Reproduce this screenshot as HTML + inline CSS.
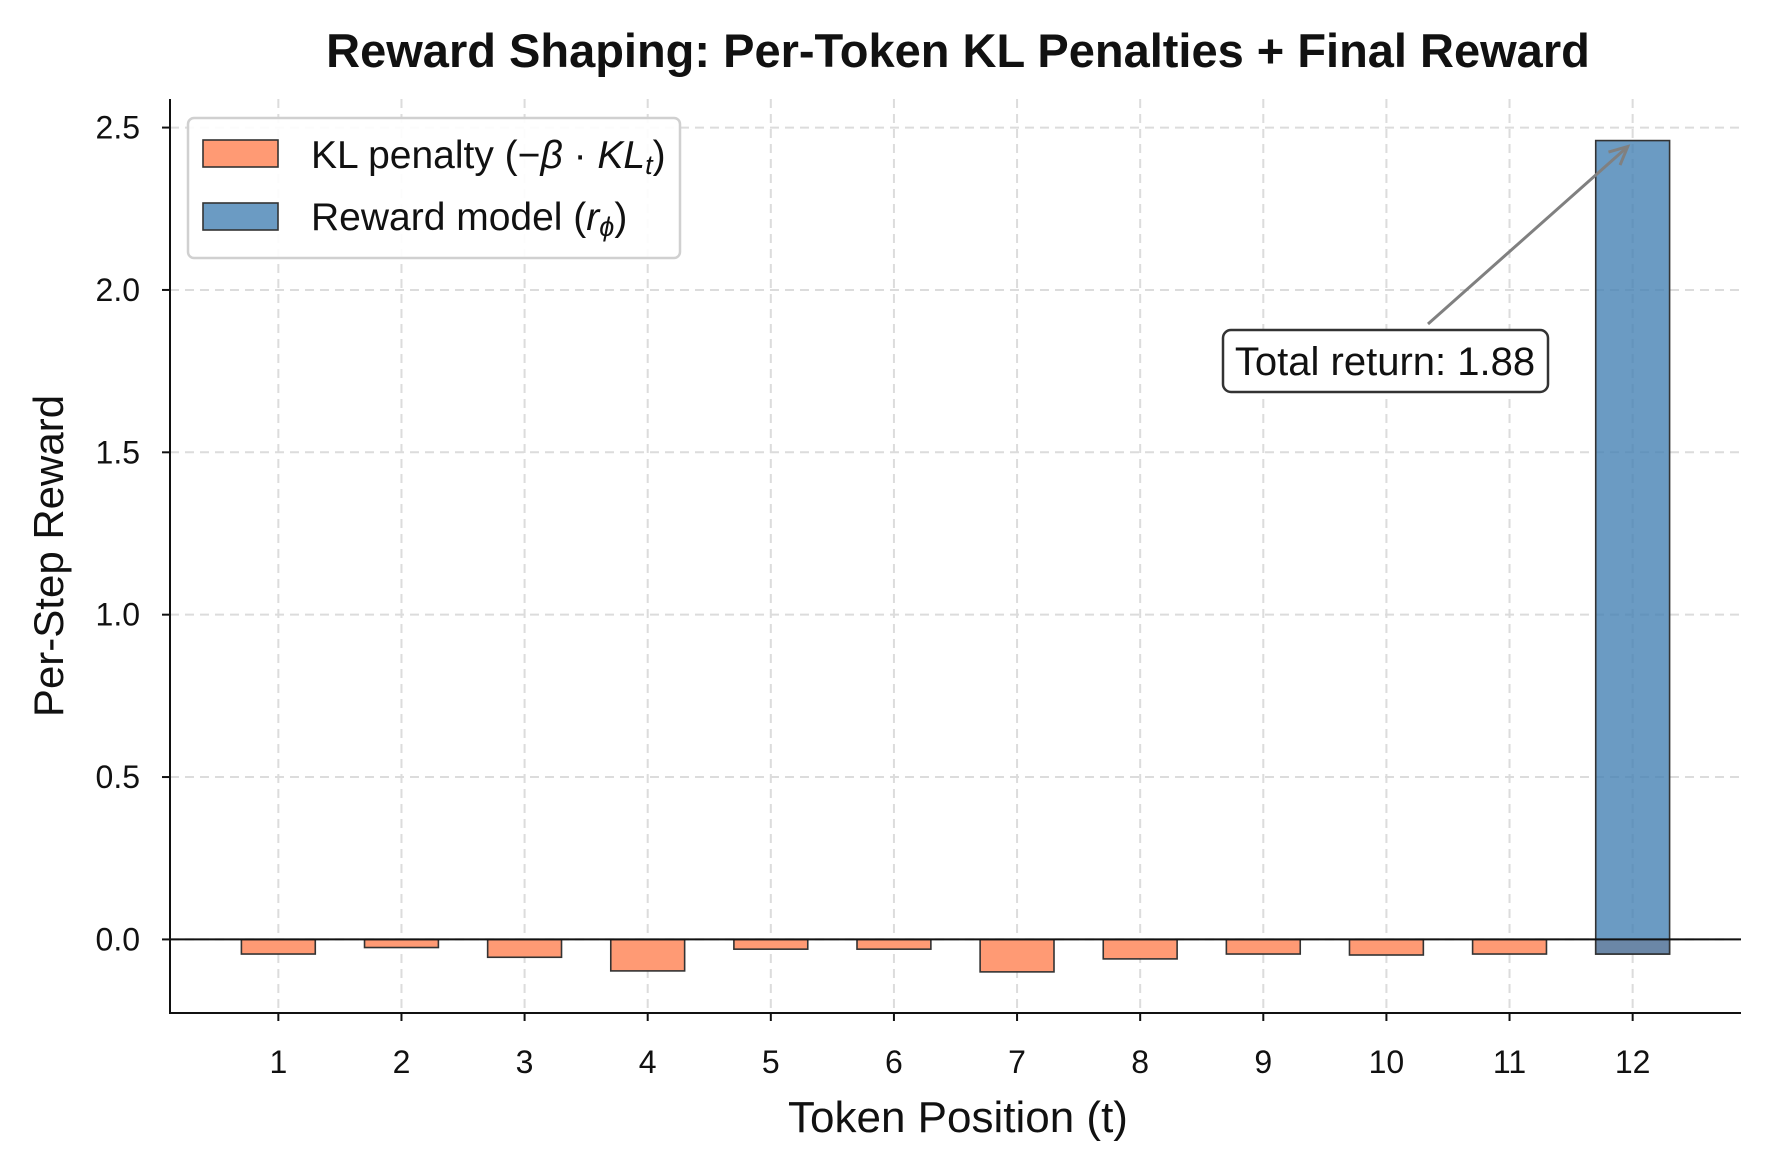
<!DOCTYPE html>
<html><head><meta charset="utf-8"><style>
body{margin:0;background:#fff}
svg text{font-family:"Liberation Sans",sans-serif;fill:#111}
</style></head><body>
<svg id="chart" width="1770" height="1170" xmlns="http://www.w3.org/2000/svg">
<rect width="1770" height="1170" fill="#fff"/>
<g id="grid"></g><g id="bars"></g><g id="axes"></g>
</svg>
<script>
const tokens=[1,2,3,4,5,6,7,8,9,10,11,12];
const klValues=[-0.045,-0.025,-0.055,-0.097,-0.03,-0.03,-0.1,-0.06,-0.045,-0.048,-0.045,-0.045];
const rewardValue=2.46;
const rewardToken=12;
const yTicks=[0.0,0.5,1.0,1.5,2.0,2.5];
const yTickLabels=["0.0","0.5","1.0","1.5","2.0","2.5"];
const totalReturnLabel="Total return: 1.88";

const NS="http://www.w3.org/2000/svg";
const L=170,R=1741,T=99,B=1013;
const xMin=0.12,xMax=12.88,yMin=-0.2266,yMax=2.588;
const xs=v=>L+(v-xMin)/(xMax-xMin)*(R-L);
const ys=v=>B-(v-yMin)/(yMax-yMin)*(B-T);
function mk(tag,attrs,parent){const e=document.createElementNS(NS,tag);for(const k in attrs)e.setAttribute(k,attrs[k]);parent.appendChild(e);return e;}
const svg=document.getElementById('chart'),grid=document.getElementById('grid'),bars=document.getElementById('bars'),axes=document.getElementById('axes');

yTicks.forEach((t,i)=>{
  const g=mk('line',{x1:L,x2:R,y1:ys(t),y2:ys(t),stroke:'#dcdcdc','stroke-width':2,'stroke-dasharray':'9,6'},grid);
  
  
  const tk=mk('line',{x1:L-8,x2:L,y1:ys(t),y2:ys(t),stroke:'#111','stroke-width':2},axes);
  
  
  const tx=mk('text',{x:L-30,y:ys(t)+11,'text-anchor':'end','font-size':32},axes);
  tx.textContent=yTickLabels[i];
  
  
});
tokens.forEach(t=>{
  const g=mk('line',{x1:xs(t),x2:xs(t),y1:T,y2:B,stroke:'#dcdcdc','stroke-width':2,'stroke-dasharray':'9,6'},grid);
  
  
  const tk=mk('line',{x1:xs(t),x2:xs(t),y1:B,y2:B+8,stroke:'#111','stroke-width':2},axes);
  
  
  const tx=mk('text',{x:xs(t),y:B+60,'text-anchor':'middle','font-size':32},axes);
  tx.textContent=t;
  
  
});
const bw=0.6;
tokens.forEach((t,i)=>{
  const v=klValues[i];
  const r=mk('rect',{x:xs(t-bw/2),width:xs(t+bw/2)-xs(t-bw/2),y:ys(0),height:ys(v)-ys(0),fill:'#ff9a74',stroke:'#333','stroke-width':1.6},bars);
  
  
});
const ri=tokens.indexOf(rewardToken);
const base=klValues[ri];
const rb=mk('rect',{x:xs(rewardToken-bw/2),width:xs(rewardToken+bw/2)-xs(rewardToken-bw/2),y:ys(rewardValue),height:ys(base)-ys(rewardValue),fill:'rgb(70,130,180)','fill-opacity':0.8,stroke:'#333','stroke-width':1.6},bars);


const zl=mk('line',{x1:L,x2:R,y1:ys(0),y2:ys(0),stroke:'#111','stroke-width':2},axes);


const sp1=mk('line',{x1:L,x2:L,y1:T,y2:B+1,stroke:'#111','stroke-width':2},axes);


const sp2=mk('line',{x1:L-1,x2:R,y1:B,y2:B,stroke:'#111','stroke-width':2},axes);



const ax=xs(rewardToken-0.04),ay=ys(rewardValue)+6;
const sx=1428,sy=324;
const ar=mk('line',{x1:sx,y1:sy,x2:ax,y2:ay,stroke:'#808080','stroke-width':3},axes);


const ang=Math.atan2(ay-sy,ax-sx),hl=20;
const ah=mk('polyline',{points:`${ax-hl*Math.cos(ang-0.45)},${ay-hl*Math.sin(ang-0.45)} ${ax},${ay} ${ax-hl*Math.cos(ang+0.45)},${ay-hl*Math.sin(ang+0.45)}`,fill:'none',stroke:'#808080','stroke-width':3},axes);


const ab=mk('rect',{x:1223,y:330,width:325,height:62,rx:8,fill:'#fff',stroke:'#333','stroke-width':2.5},axes);


const at=mk('text',{x:1385,y:375,'text-anchor':'middle','font-size':40},axes);
at.textContent=totalReturnLabel;


</script>
<svg style="position:absolute;left:0;top:0" width="1770" height="1170" xmlns="http://www.w3.org/2000/svg">
<g>
<rect x="188" y="118" width="492" height="140" rx="6" fill="#fff" fill-opacity="0.9" stroke="#d0d0d0" stroke-width="2.5"/>
<rect x="203" y="140" width="75" height="27" fill="#ff9a74" stroke="#333" stroke-width="1.6"/>
<text x="311" y="168" font-size="39" style="font-family:'Liberation Sans',sans-serif">KL penalty (−<tspan font-style="italic">β</tspan> · <tspan font-style="italic">KL</tspan><tspan font-style="italic" font-size="27" dy="6">t</tspan><tspan dy="-6">)</tspan></text>
<rect x="203" y="203" width="75" height="27" fill="#6b9bc3" stroke="#333" stroke-width="1.6"/>
<text x="311" y="230" font-size="39" style="font-family:'Liberation Sans',sans-serif">Reward model (<tspan font-style="italic">r</tspan><tspan font-style="italic" font-size="27" dy="6">ϕ</tspan><tspan dy="-6">)</tspan></text>
</g>
<text x="958" y="67" text-anchor="middle" font-size="47" font-weight="bold" style="font-family:'Liberation Sans',sans-serif">Reward Shaping: Per-Token KL Penalties + Final Reward</text>
<text x="958" y="1132" text-anchor="middle" font-size="44" style="font-family:'Liberation Sans',sans-serif">Token Position (t)</text>
<text x="0" y="0" transform="translate(63,556) rotate(-90)" text-anchor="middle" font-size="42" style="font-family:'Liberation Sans',sans-serif">Per-Step Reward</text>
</svg>
</body></html>
